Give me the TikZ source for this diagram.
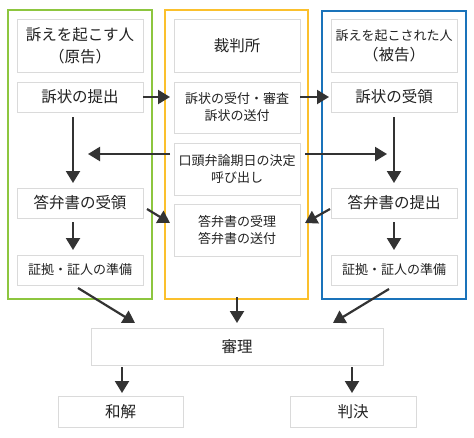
\documentclass[tikz,border=0pt]{standalone}
\usepackage{fontspec}
\setmainfont{Noto Sans CJK JP}
\usetikzlibrary{arrows.meta,calc}
\definecolor{cgreen}{HTML}{8DC63F}
\definecolor{cyellow}{HTML}{FBC02D}
\definecolor{cblue}{HTML}{1A73BA}
\definecolor{cbox}{HTML}{DADADA}
\definecolor{carrow}{HTML}{333333}
\definecolor{ctext}{HTML}{222222}
\tikzset{
  box/.style={draw=cbox, line width=0.9pt, fill=white, inner sep=0pt, outer sep=0pt,
    minimum width=126pt, align=center, text=ctext},
  big/.style={font=\fontsize{15.5}{22}\selectfont},
  small/.style={font=\fontsize{13}{17}\selectfont},
  frame/.style={line width=2pt, inner sep=0pt, outer sep=0pt, fill=none},
  arr/.style={draw=carrow, line width=2.2pt, -{Triangle[length=12pt,width=14pt]}},
}
\begin{document}
\begin{tikzpicture}[x=1pt,y=-1pt]
\useasboundingbox (0,0) rectangle (474,437);
% containers
\node[frame, draw=cgreen, minimum width=144pt, minimum height=289pt] (G) at (80,154.5) {};
\node[frame, draw=cyellow, minimum width=143pt, minimum height=289pt] (Y) at (236.5,154.5) {};
\node[frame, draw=cblue, minimum width=144pt, minimum height=288pt] (B) at (394,155) {};
% left column
\node[box, big, minimum height=53pt] (L1) at (80,45.5) {訴えを起こす人\\（原告）};
\node[box, big, minimum height=30pt] (L2) at (80,97) {訴状の提出};
\node[box, big, minimum height=30pt] (L3) at (80,203) {答弁書の受領};
\node[box, small, minimum height=30pt] (L4) at (80,270) {証拠・証人の準備};
% middle column
\node[box, big, minimum height=53pt] (M1) at (237,45.5) {裁判所};
\node[box, small, minimum height=51pt] (M2) at (237,107.5) {訴状の受付・審査\\訴状の送付};
\node[box, small, minimum height=52pt] (M3) at (237,169) {口頭弁論期日の決定\\呼び出し};
\node[box, small, minimum height=52pt] (M4) at (237,230) {答弁書の受理\\答弁書の送付};
% right column
\node[box, minimum height=53pt, font=\fontsize{13}{20}\selectfont] (R1) at (394,45.5) {訴えを起こされた人\\{\fontsize{15.5}{20}\selectfont（被告）}};
\node[box, big, minimum height=30pt] (R2) at (394,97) {訴状の受領};
\node[box, big, minimum height=30pt] (R3) at (394,203) {答弁書の提出};
\node[box, small, minimum height=30pt] (R4) at (394,270) {証拠・証人の準備};
% bottom
\node[box, big, minimum width=292pt, minimum height=37pt] (S) at (237,346.5) {審理};
\node[box, big, minimum width=125pt, minimum height=31pt] (W) at (120.5,411.5) {和解};
\node[box, big, minimum width=126pt, minimum height=31pt] (H) at (353,411.5) {判決};
% free ends
\coordinate (tl) at (88,154);
\coordinate (tr) at (387,154);
% arrows
\draw[arr] (L2.east) -- ([xshift=-4pt]L2.east -| M2.west);
\draw[arr] (M2.east |- R2.west) -- ([xshift=-2pt]R2.west);
\draw[arr] ([xshift=-7pt,yshift=-5pt]L2.south) -- ([xshift=-7pt,yshift=5pt]L3.north);
\draw[arr] ([xshift=-4pt,yshift=15pt]M3.west) -- (tl);
\draw[arr] ([xshift=5pt,yshift=15pt]M3.east) -- (tr);
\draw[arr] ([yshift=-5pt]R2.south) -- ([yshift=5pt]R3.north);
\draw[arr] ([xshift=4pt,yshift=-6pt]L3.east) -- ([xshift=-4pt,yshift=7pt]M4.west);
\draw[arr] ([xshift=-1pt,yshift=-6pt]R3.west) -- ([xshift=5pt,yshift=7pt]M4.east);
\draw[arr] ([xshift=-7pt,yshift=-4pt]L3.south) -- ([xshift=-7pt,yshift=5pt]L4.north);
\draw[arr] ([yshift=-4pt]R3.south) -- ([yshift=5pt]R4.north);
\draw[arr] ([xshift=-2pt,yshift=-3pt]L4.south) -- ([xshift=-102pt,yshift=5pt]S.north);
\draw[arr] ([yshift=2pt]Y.south -| S.north) -- ([yshift=5pt]S.north);
\draw[arr] ([xshift=-5pt,yshift=-4pt]R4.south) -- ([xshift=96pt,yshift=5pt]S.north);
\draw[arr] ([xshift=1.5pt,yshift=-2pt]S.south -| W.north) -- ([xshift=1.5pt,yshift=3pt]W.north);
\draw[arr] ([xshift=-1pt,yshift=-2pt]S.south -| H.north) -- ([xshift=-1pt,yshift=3pt]H.north);
\end{tikzpicture}
\end{document}
